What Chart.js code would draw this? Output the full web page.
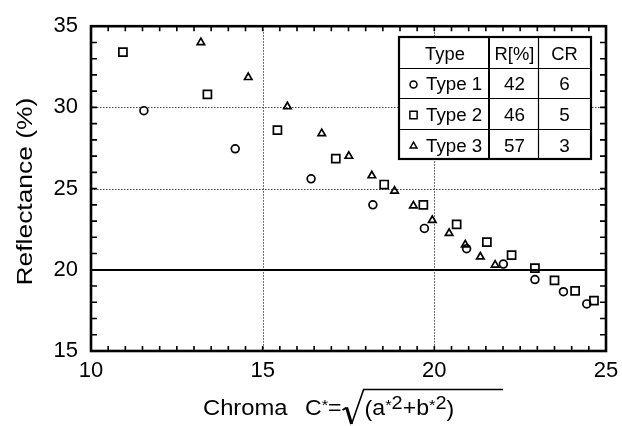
<!DOCTYPE html>
<html><head><meta charset="utf-8">
<script src="https://cdn.jsdelivr.net/npm/chart.js@4.4.1/dist/chart.umd.min.js"></script>
<style>html,body{margin:0;padding:0;background:#fff}#wrap{width:622px;height:426px}</style>
</head><body><div id="wrap"><canvas id="c" width="622" height="426"></canvas></div>
<script>
// ---- data ----
const type1X = [11.54, 14.20, 16.41, 18.21, 19.71, 20.94, 22.01, 22.93, 23.76, 24.44];
const type1Y = [29.8, 27.45, 25.6, 24.0, 22.55, 21.3, 20.35, 19.4, 18.65, 17.9];
const type2X = [10.93, 13.39, 15.43, 17.13, 18.54, 19.68, 20.65, 21.53, 22.25, 22.93, 23.50, 24.10, 24.65];
const type2Y = [33.4, 30.8, 28.6, 26.85, 25.25, 24.0, 22.8, 21.7, 20.9, 20.1, 19.35, 18.7, 18.1];
const type3X = [13.20, 14.58, 15.72, 16.72, 17.51, 18.18, 18.84, 19.39, 19.94, 20.43, 20.90, 21.34, 21.77];
const type3Y = [34.0, 31.85, 30.05, 28.4, 27.0, 25.8, 24.85, 23.95, 23.05, 22.25, 21.55, 20.8, 20.3];

const xMin = 10, xMax = 25, xStep = 5, xMinorStep = 0.5;
const yMin = 15, yMax = 35, yStep = 5, yMinorStep = 1;
const xDottedGrid = [15, 20];
const yDottedGrid = [25, 30];
const ySolidGrid = [20];

const tableHeader = ['Type', 'R[%]', 'CR'];
const tableNames = ['Type 1', 'Type 2', 'Type 3'];
const tableR = [42, 46, 57];
const tableCR = [6, 5, 3];

const yTitle = 'Reflectance (%)';
const xTitleWord = 'Chroma';

const FONT = '"Liberation Sans", Arial, Helvetica, sans-serif';
const styles = [
  {pointStyle: 'circle', radius: 3.9},
  {pointStyle: 'rect', radius: 5.7},
  {pointStyle: 'triangle', radius: 4.3}
];
const series = [[type1X, type1Y], [type2X, type2Y], [type3X, type3Y]];

function txt(ctx, s, x, y, size, sx, align) {
  ctx.save();
  ctx.translate(x, y);
  ctx.scale(sx || 1, 1);
  ctx.font = size + 'px ' + FONT;
  ctx.textAlign = align || 'left';
  ctx.fillText(s, 0, 0);
  const w = ctx.measureText(s).width * (sx || 1);
  ctx.restore();
  return w;
}

const framePlugin = {
  id: 'frame',
  beforeDatasetsDraw(chart) {
    const {ctx, chartArea: a, scales: {x, y}} = chart;
    ctx.save();
    ctx.strokeStyle = '#444';
    ctx.lineWidth = 1;
    ctx.setLineDash([1.5, 1.5]);
    xDottedGrid.forEach(v => {
      const p = Math.round(x.getPixelForValue(v)) + 0.5;
      ctx.beginPath(); ctx.moveTo(p, a.top); ctx.lineTo(p, a.bottom); ctx.stroke();
    });
    yDottedGrid.forEach(v => {
      const p = Math.round(y.getPixelForValue(v)) + 0.5;
      ctx.beginPath(); ctx.moveTo(a.left, p); ctx.lineTo(a.right, p); ctx.stroke();
    });
    ctx.setLineDash([]);
    ctx.strokeStyle = '#000';
    ctx.lineWidth = 2;
    ySolidGrid.forEach(v => {
      const p = Math.round(y.getPixelForValue(v));
      ctx.beginPath(); ctx.moveTo(a.left, p); ctx.lineTo(a.right, p); ctx.stroke();
    });
    ctx.restore();
  },
  afterDatasetsDraw(chart) {
    const {ctx, chartArea: a, scales: {x, y}} = chart;
    ctx.save();
    // inward ticks
    ctx.strokeStyle = '#000';
    ctx.lineWidth = 1.6;
    const nx = Math.round((xMax - xMin) / xMinorStep);
    for (let i = 1; i < nx; i++) {
      const p = x.getPixelForValue(xMin + i * xMinorStep);
      ctx.beginPath(); ctx.moveTo(p, a.bottom); ctx.lineTo(p, a.bottom - 5);
      ctx.moveTo(p, a.top); ctx.lineTo(p, a.top + 5); ctx.stroke();
    }
    const ny = Math.round((yMax - yMin) / yMinorStep);
    for (let i = 1; i < ny; i++) {
      const p = y.getPixelForValue(yMin + i * yMinorStep);
      ctx.beginPath(); ctx.moveTo(a.left, p); ctx.lineTo(a.left + 6, p);
      ctx.moveTo(a.right, p); ctx.lineTo(a.right - 6, p); ctx.stroke();
    }
    // frame
    ctx.lineWidth = 2.6;
    ctx.strokeRect(a.left, a.top, a.right - a.left, a.bottom - a.top);

    // legend table
    const cols = [399, 489, 538, 591];
    const rows = [37, 68, 98, 129, 159];
    ctx.fillStyle = '#fff';
    ctx.fillRect(cols[0], rows[0], cols[3] - cols[0], rows[4] - rows[0]);
    ctx.strokeStyle = '#000';
    ctx.lineWidth = 1;
    for (let r = 1; r < 4; r++) {
      ctx.beginPath(); ctx.moveTo(cols[0], rows[r] + 0.5); ctx.lineTo(cols[3], rows[r] + 0.5); ctx.stroke();
    }
    ctx.lineWidth = 2;
    ctx.beginPath(); ctx.moveTo(cols[1], rows[0]); ctx.lineTo(cols[1], rows[4]); ctx.stroke();
    ctx.lineWidth = 1.2;
    ctx.beginPath(); ctx.moveTo(cols[2] + 0.5, rows[0]); ctx.lineTo(cols[2] + 0.5, rows[4]); ctx.stroke();
    ctx.lineWidth = 2.2;
    ctx.strokeRect(cols[0], rows[0], cols[3] - cols[0], rows[4] - rows[0]);
    ctx.fillStyle = '#000';
    const c0 = (cols[0] + cols[1]) / 2 + 1, c1 = (cols[1] + cols[2]) / 2 + 1, c2 = (cols[2] + cols[3]) / 2;
    const base = [60, 90, 120.5, 151.5];
    txt(ctx, tableHeader[0], c0, base[0], 17.5, 1.05, 'center');
    txt(ctx, tableHeader[1], c1, base[0], 17.5, 1.05, 'center');
    txt(ctx, tableHeader[2], c2, base[0], 17.5, 1.05, 'center');
    for (let i = 0; i < 3; i++) {
      const by = base[i + 1];
      ctx.save();
      ctx.strokeStyle = '#000'; ctx.fillStyle = 'rgba(0,0,0,0)'; ctx.lineWidth = 1.5;
      Chart.helpers.drawPoint(ctx, {pointStyle: styles[i].pointStyle, radius: styles[i].radius * 0.9, borderWidth: 1.5, rotation: 0}, 413.5, by - 5.5);
      ctx.restore();
      ctx.fillStyle = '#000';
      txt(ctx, tableNames[i], 426, by, 17.5, 1.07, 'left');
      txt(ctx, String(tableR[i]), c1, by, 17.5, 1.08, 'center');
      txt(ctx, String(tableCR[i]), c2, by, 17.5, 1.08, 'center');
    }

    // y title
    ctx.save();
    ctx.translate(32, (a.top + a.bottom) / 2 + 3);
    ctx.rotate(-Math.PI / 2);
    txt(ctx, yTitle, 0, 0, 22, 1.2, 'center');
    ctx.restore();

    // x title with square root
    ctx.fillStyle = '#000';
    const bl = 415;
    let cx = 203;
    txt(ctx, xTitleWord, cx, bl, 22, 1.08, 'left');
    cx = 305;
    cx += txt(ctx, 'C', cx, bl, 22, 1.05);
    cx += txt(ctx, '*', cx, bl - 5, 15, 1.1);
    cx += txt(ctx, '=', cx, bl, 22, 1.05);
    // radical sign
    const rx = cx + 1;
    ctx.strokeStyle = '#000';
    ctx.lineWidth = 2;
    ctx.beginPath();
    ctx.moveTo(rx, 410); ctx.lineTo(rx + 4, 407.5);
    ctx.stroke();
    ctx.lineWidth = 3;
    ctx.beginPath();
    ctx.moveTo(rx + 4, 407.5); ctx.lineTo(rx + 9, 424);
    ctx.stroke();
    ctx.lineWidth = 1.6;
    ctx.beginPath();
    ctx.moveTo(rx + 9, 424); ctx.lineTo(rx + 21, 389.5); ctx.lineTo(503, 389.5);
    ctx.stroke();
    cx = rx + 22;
    cx += txt(ctx, '(', cx, bl + 1, 22, 1.05);
    cx += txt(ctx, 'a', cx, bl, 22, 1.05);
    cx += txt(ctx, '*', cx, bl - 5, 15, 1.1);
    cx += txt(ctx, '2', cx, bl - 6, 19, 1.05);
    cx += txt(ctx, '+', cx, bl, 22, 1.05);
    cx += txt(ctx, 'b', cx, bl, 22, 1.05);
    cx += txt(ctx, '*', cx, bl - 5, 15, 1.1);
    cx += txt(ctx, '2', cx, bl - 6, 19, 1.05);
    cx += txt(ctx, ')', cx, bl + 1, 22, 1.05);
    ctx.restore();
  }
};

const datasets = series.map((s, i) => ({
  label: tableNames[i],
  data: s[0].map((v, j) => ({x: v, y: s[1][j]})),
  pointStyle: styles[i].pointStyle,
  pointRadius: styles[i].radius,
  borderColor: '#000',
  backgroundColor: 'rgba(255,255,255,0)',
  borderWidth: 1.7,
  showLine: false
}));

new Chart(document.getElementById('c'), {
  type: 'scatter',
  data: {datasets},
  options: {
    responsive: false,
    animation: false,
    devicePixelRatio: 1,
    layout: {padding: {top: 23, right: 16, left: 0, bottom: 0}},
    plugins: {legend: {display: false}, tooltip: {enabled: false}},
    scales: {
      x: {
        type: 'linear', min: xMin, max: xMax,
        ticks: {stepSize: xStep, color: '#000', font: {size: 22, family: FONT}, padding: 3, maxRotation: 0},
        grid: {display: false, drawTicks: true, tickLength: 4},
        border: {display: false},
        afterFit: s => { s.height = 75; }
      },
      y: {
        type: 'linear', min: yMin, max: yMax,
        ticks: {stepSize: yStep, color: '#000', font: {size: 22, family: FONT}, padding: 13},
        grid: {display: false, drawTicks: false},
        border: {display: false},
        afterFit: s => { s.width = 91; }
      }
    }
  },
  plugins: [framePlugin]
});
</script></body></html>
